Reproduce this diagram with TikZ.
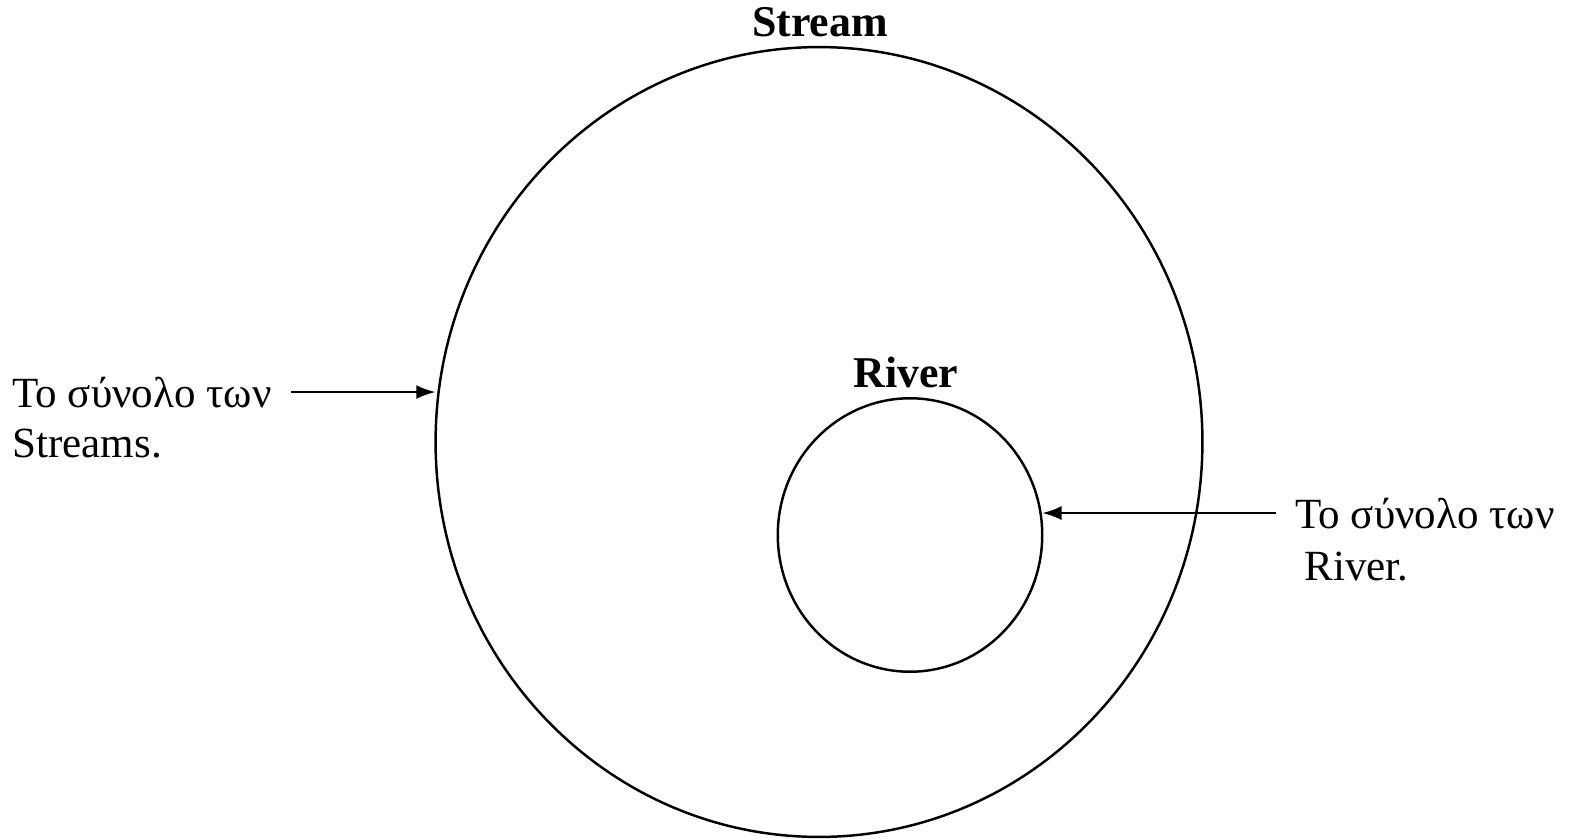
\documentclass[tikz,border=0pt]{standalone}
\usepackage{fontspec}
\setmainfont{Liberation Serif}
\usetikzlibrary{shapes.geometric, arrows.meta, positioning, calc}

\begin{document}
\begin{tikzpicture}[x=0.02cm, y=-0.02cm,
    setline/.style={draw, ellipse, line width=1.4pt, outer sep=0pt, inner sep=0pt},
    setname/.style={font=\fontsize{25}{29}\selectfont\bfseries, anchor=base},
    lbl/.style={font=\fontsize{24.5}{29}\selectfont, anchor=base west, inner sep=0pt},
    pointer/.style={line width=1.3pt, -{Latex[length=11pt, width=8pt]}, shorten <=11pt}]
  \useasboundingbox (0,0) rectangle (1578,838);

  % Sets
  \node[setline, minimum width=15.34cm, minimum height=15.8cm] (stream) at (819,442) {};
  \node[setline, minimum width=5.29cm, minimum height=5.47cm] (river) at (910,535) {};
  \node[setname] (streamname) at (820,37) {Stream};
  \node[setname] (rivername) at (906,387) {River};

  % Labels
  \node[lbl] (lblS) at (12,407) {Το σύνολο των};
  \node[lbl] (lblSb) at (12,457) {Streams.};
  \node[lbl] (lblR) at (1295,528) {Το σύνολο των};
  \node[lbl] (lblRb) at (1304,580) {River.};

  % Pointers
  \draw[pointer] (lblS.east) -- (lblS.east -| stream.west);
  \draw[pointer] (lblR.west) -- (lblR.west -| river.east);
\end{tikzpicture}
\end{document}
